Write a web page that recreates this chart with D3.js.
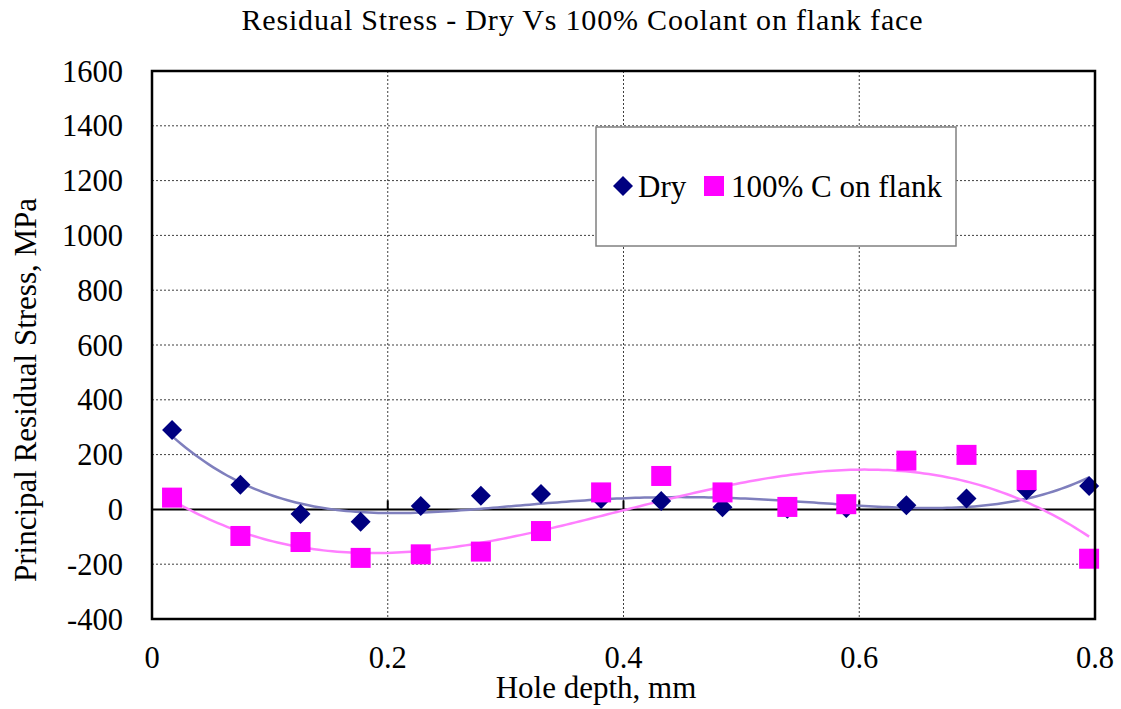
<!DOCTYPE html>
<html>
<head>
<meta charset="utf-8">
<script src="https://cdn.jsdelivr.net/npm/d3@7"></script>
<style>
  html, body { margin: 0; padding: 0; background: #fff; }
</style>
</head>
<body>
<svg id="chart" width="1121" height="709"></svg>
<script>
// ---- data ----
const depth = [0.017, 0.075, 0.126, 0.177, 0.228, 0.279, 0.330, 0.381, 0.432, 0.484, 0.539, 0.589, 0.640, 0.691, 0.742, 0.795];
const dryValues = [290, 90, -17, -45, 12, 50, 56, 38, 31, 8, 2, 5, 15, 40, 71, 85];
const coolantValues = [43, -97, -119, -177, -164, -154, -79, 62, 122, 62, 9, 19, 178, 199, 107, -180];
const seriesNames = ["Dry", "100% C on flank"];
const xTicks = [0, 0.2, 0.4, 0.6, 0.8];
const yTicks = [-400, -200, 0, 200, 400, 600, 800, 1000, 1200, 1400, 1600];
const titleText = "Residual Stress - Dry Vs 100% Coolant on flank face";
const xTitle = "Hole depth, mm";
const yTitle = "Principal Residual Stress, MPa";

// ---- polynomial least squares trendline (as the spreadsheet does) ----
function polyfit(xs, ys, order) {
  const n = order + 1;
  const A = Array.from({length: n}, () => new Array(n + 1).fill(0));
  for (let k = 0; k < xs.length; k++) {
    const p = [];
    for (let i = 0; i < n; i++) p.push(Math.pow(xs[k], i));
    for (let i = 0; i < n; i++) {
      for (let j = 0; j < n; j++) A[i][j] += p[i] * p[j];
      A[i][n] += p[i] * ys[k];
    }
  }
  for (let c = 0; c < n; c++) {
    let piv = c;
    for (let r = c + 1; r < n; r++) if (Math.abs(A[r][c]) > Math.abs(A[piv][c])) piv = r;
    [A[c], A[piv]] = [A[piv], A[c]];
    for (let r = 0; r < n; r++) {
      if (r === c) continue;
      const f = A[r][c] / A[c][c];
      for (let j = c; j <= n; j++) A[r][j] -= f * A[c][j];
    }
  }
  const coef = A.map((row, i) => row[n] / row[i]);
  return x => coef.reduce((s, a, i) => s + a * Math.pow(x, i), 0);
}
const dryFit = polyfit(depth, dryValues, 4);
const coolFit = polyfit(depth, coolantValues, 3);

// ---- layout ----
const FONT = '"Liberation Serif", serif';
const svg = d3.select("#chart");
const L = 152, R = 1095, T = 71, B = 619;
const x = d3.scaleLinear().domain([0, 0.8]).range([L, R]);
const y = d3.scaleLinear().domain([-400, 1600]).range([B, T]);

// gridlines
svg.append("g").selectAll("line").data(yTicks.filter(v => v > -400 && v < 1600 && v !== 0)).join("line")
  .attr("x1", L).attr("x2", R).attr("y1", d => y(d)).attr("y2", d => y(d))
  .attr("stroke", "#000").attr("stroke-width", 1).attr("stroke-dasharray", "2,2").attr("opacity", 0.75);
svg.append("g").selectAll("line").data(xTicks.filter(v => v > 0 && v < 0.8)).join("line")
  .attr("x1", d => x(d)).attr("x2", d => x(d)).attr("y1", T).attr("y2", B)
  .attr("stroke", "#000").attr("stroke-width", 1).attr("stroke-dasharray", "2,2").attr("opacity", 0.75);

// zero line with ticks
svg.append("line").attr("x1", L).attr("x2", R).attr("y1", y(0)).attr("y2", y(0))
  .attr("stroke", "#000").attr("stroke-width", 2);
svg.append("g").selectAll("line").data(xTicks.filter(v => v > 0 && v < 0.8)).join("line")
  .attr("x1", d => x(d)).attr("x2", d => x(d)).attr("y1", y(0) - 9).attr("y2", y(0))
  .attr("stroke", "#000").attr("stroke-width", 2);

// y-axis labels
svg.append("g").selectAll("text").data(yTicks).join("text")
  .attr("x", L - 29).attr("y", d => y(d) + 10.5)
  .style("font-family", FONT).style("font-size", "30.5px")
  .attr("text-anchor", "end").text(d => d);
// x-axis labels
svg.append("g").selectAll("text").data(xTicks).join("text")
  .attr("x", d => x(d)).attr("y", 668)
  .style("font-family", FONT).style("font-size", "30.5px")
  .attr("text-anchor", "middle").text(d => d === 0 ? "0" : d3.format(".1f")(d));

// trend lines
const xs = d3.range(0, 201).map(i => depth[0] + (depth[depth.length - 1] - depth[0]) * i / 200);
const line = f => d3.line().x(d => x(d)).y(d => y(f(d)));
svg.append("path").attr("d", line(dryFit)(xs)).attr("fill", "none")
  .attr("stroke", "#7f7fbd").attr("stroke-width", 2.5);
svg.append("path").attr("d", line(coolFit)(xs)).attr("fill", "none")
  .attr("stroke", "#ff7fff").attr("stroke-width", 2.5);

// markers
const diamond = d3.symbol().type(d3.symbolSquare).size(200);
svg.append("g").selectAll("path").data(depth).join("path")
  .attr("d", diamond)
  .attr("transform", (d, i) => `translate(${x(d)},${y(dryValues[i])}) rotate(45)`)
  .attr("fill", "#000080");
svg.append("g").selectAll("rect").data(depth).join("rect")
  .attr("x", d => x(d) - 10).attr("width", 20)
  .attr("y", (d, i) => y(coolantValues[i]) - 10).attr("height", 20)
  .attr("fill", "#ff00ff");

// frame
svg.append("rect").attr("x", L).attr("y", T).attr("width", R - L).attr("height", B - T)
  .attr("fill", "none").attr("stroke", "#000").attr("stroke-width", 2.5);

// legend
const lg = svg.append("g");
lg.append("rect").attr("x", 596).attr("y", 127).attr("width", 360).attr("height", 119)
  .attr("fill", "#fff").attr("stroke", "#808080").attr("stroke-width", 1.5);
lg.append("path").attr("d", diamond).attr("transform", "translate(623,186) rotate(45)").attr("fill", "#000080");
lg.append("text").attr("x", 638).attr("y", 197)
  .style("font-family", FONT).style("font-size", "31px").text(seriesNames[0]);
lg.append("rect").attr("x", 704).attr("y", 176).attr("width", 20).attr("height", 20).attr("fill", "#ff00ff");
lg.append("text").attr("x", 731).attr("y", 197)
  .style("font-family", FONT).style("font-size", "31px").text(seriesNames[1]);

// titles
svg.append("text").attr("x", 582).attr("y", 30).attr("text-anchor", "middle")
  .style("font-family", FONT).style("font-size", "30px")
  .attr("textLength", 681).attr("lengthAdjust", "spacing").text(titleText);
svg.append("text").attr("x", 596).attr("y", 698).attr("text-anchor", "middle")
  .style("font-family", FONT).style("font-size", "31px").text(xTitle);
svg.append("text").attr("transform", "translate(36,390) rotate(-90)").attr("text-anchor", "middle")
  .style("font-family", FONT).style("font-size", "31px").text(yTitle);
</script>
</body>
</html>
